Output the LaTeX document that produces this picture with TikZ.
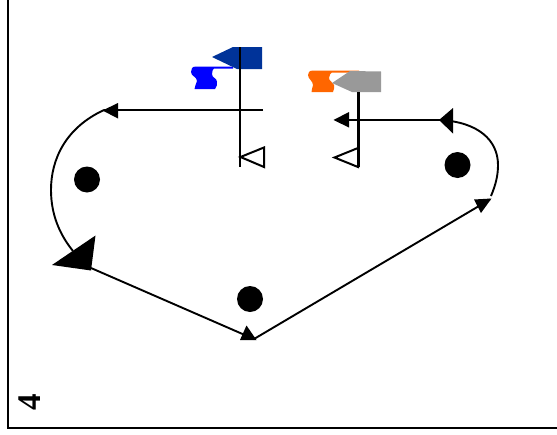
\documentclass[tikz,border=0pt]{standalone}
\usepackage{fontspec}
\setmainfont{Liberation Serif}
\definecolor{flagblue}{RGB}{0,0,255}
\definecolor{flagnavy}{RGB}{0,51,153}
\definecolor{flagorange}{RGB}{255,102,0}
\definecolor{flaggray}{RGB}{153,153,153}
\tikzset{
  conn/.style={line width=1.9pt},
  straightconn/.style={line width=2.2pt},
  dot/.style={circle,fill=black,inner sep=0pt,minimum size=26pt},
  pole/.style={line width=2.2pt},
  tri/.style={draw=black,line width=2pt,fill=white,line join=miter},
  tip/.style={fill=black,draw=none},
  frameline/.style={line width=2.2pt}
}
\begin{document}
\begin{tikzpicture}[x=1pt,y=-1pt]
\useasboundingbox (0,0) rectangle (557,434);
% frame
\coordinate (f1) at (7.7,0);
\coordinate (f2) at (7.7,428);
\coordinate (f3) at (557,428);
\draw[frameline] (f1) -- (f2) -- (f3);
\node[rotate=90,font=\bfseries\fontsize{33}{33}\selectfont,inner sep=0pt] (num) at (29.5,402) {4};
% dots
\node[dot] (d1) at (87,179.5) {};
\node[dot] (d2) at (250,299) {};
\node[dot] (d3) at (457.5,165) {};
% left flag
\fill[flagblue] (233,66.5) -- (196,66.5) .. controls (192,66.5) and (191,69) .. (191,72) .. controls (191,76) and (197,77) .. (197,81) .. controls (197,84) and (194,86) .. (194.5,89) -- (215,89) .. controls (217,87) and (217,84) .. (217,82) .. controls (217,78) and (212,78) .. (212,74) .. controls (212,71) and (213,69) .. (214,68.5) -- (233,68.5) -- cycle;
\fill[flagnavy] (212,57) -- (233,47) -- (262,47) -- (262,69) -- (237,69) -- cycle;
\coordinate (p1t) at (240,47);
\coordinate (p1b) at (240,167);
\draw[pole] (p1t) -- (p1b);
\draw[tri] (240.5,157) -- (264,147.5) -- (264,167) -- cycle;
% right flag
\fill[flagorange] (359,70.5) -- (313,70.5) .. controls (309,70.5) and (308,73) .. (308,75) .. controls (308,79) and (313,81) .. (313,85) .. controls (313,88) and (311,90) .. (311.5,92) -- (333,92) .. controls (334,90) and (334.5,87) .. (334,85) .. controls (333,82) and (329,81) .. (329,78) .. controls (329,75) and (331,73) .. (332,72.5) -- (359,72.5) -- cycle;
\fill[flaggray] (332,83) -- (350,71) -- (381,71.5) -- (381,92) -- (352,92) -- cycle;
\coordinate (p2t) at (358.5,92);
\coordinate (p2b) at (358.5,167);
\draw[pole] (p2t) -- (p2b);
\draw[tri] (334.5,157.5) -- (358,148) -- (358,167) -- cycle;
% route
\coordinate (a) at (263,110);
\coordinate (b) at (104,110);
\coordinate (c) at (73,251);
\coordinate (d) at (91,268);
\coordinate (e) at (254,339);
\coordinate (f) at (490,199.5);
\coordinate (g) at (491,196);
\coordinate (h) at (440,120);
\coordinate (i) at (335,120);
\draw[straightconn] (a) -- (b);
\draw[conn] (b) .. controls (65,128) and (51,160) .. (51,190) .. controls (51,215) and (60,235) .. (c);
\draw[conn] (d) -- (e) -- (f);
\draw[conn] (g) .. controls (496,184) and (498,175) .. (498,165) .. controls (498,140) and (478,122) .. (h);
\draw[straightconn] (h) -- (i);
% arrow heads
\fill[tip] (102.5,110.5) -- (118,103) -- (118,118.5) -- cycle;
\fill[tip] (52,265) -- (95.5,235.5) -- (91,270.5) -- cycle;
\fill[tip] (256.5,340) -- (246.5,325.5) -- (240,340) -- cycle;
\fill[tip] (491.5,198.5) -- (474,199.5) -- (481,213) -- cycle;
\fill[tip] (439,120) -- (453,108) -- (453,133.5) -- cycle;
\fill[tip] (333.5,120) -- (349,112) -- (349,127.5) -- cycle;
\end{tikzpicture}
\end{document}
